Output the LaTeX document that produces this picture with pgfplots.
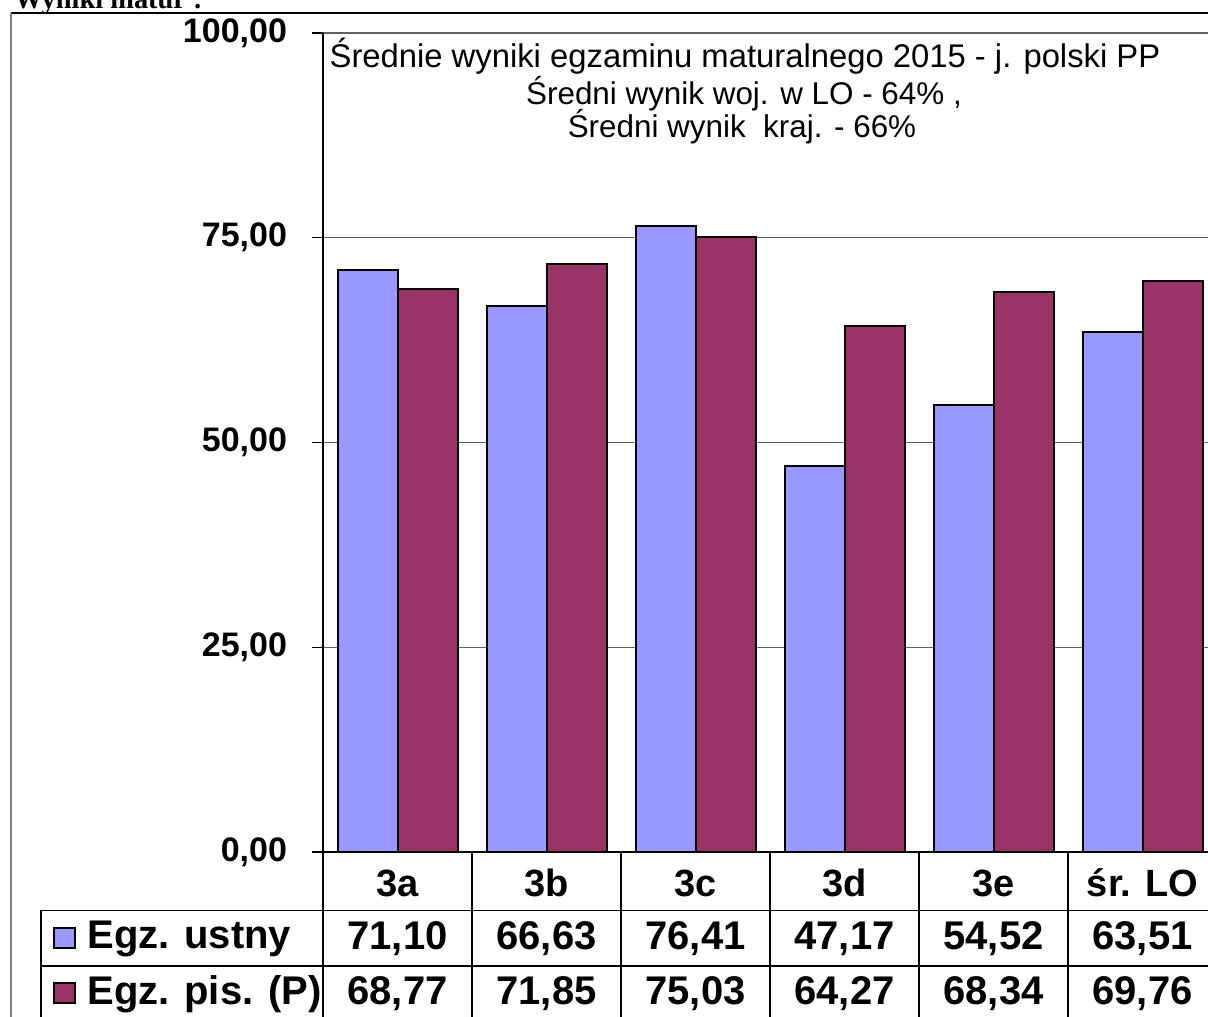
\documentclass[border=0pt]{standalone}
\usepackage{pgfplots}
\pgfplotsset{compat=1.18}
\usepackage{fontspec}
\setmainfont{Liberation Sans}
\newfontfamily\timesf{Liberation Serif}
\definecolor{ustny}{HTML}{9999FF}
\definecolor{pis}{HTML}{993366}
\definecolor{gridc}{HTML}{606060}
\begin{document}
\begin{tikzpicture}[x=1pt,y=1pt]
\useasboundingbox (0,0) rectangle (604,508);
\clip (0,0) rectangle (604,508);
% outer frame
\draw[black, line width=0.6pt] (5.5,501.5) -- (610,501.5);
\draw[gray, line width=0.6pt] (5.5,501.5) -- (5.5,-5);
\node[anchor=base west, inner sep=0pt, font=\timesf\bfseries\fontsize{14.2}{14.2}\selectfont] at (7,503.5) {Wyniki matur :};
\begin{axis}[
  at={(161.5pt,82pt)}, anchor=south west,
  scale only axis, width=447pt, height=409.5pt,
  xmin=-0.5, xmax=5.5, ymin=0, ymax=100,
  ybar=0pt, bar width=30pt,
  axis x line=bottom, axis y line=left,
  axis line style={-, black, line width=0.8pt},
  xtick={0,1,2,3,4,5},
  xticklabels={3a,3b,3c,3d,3e,śr. LO},
  xticklabel style={font=\bfseries\fontsize{19}{19}\selectfont, anchor=center, yshift=-10pt},
  xtick style={draw=none},
  ytick={0,25,50,75,100},
  ymajorgrids, grid style={gridc, line width=0.7pt},
  tick align=outside, major tick length=5.5pt,
  ytick style={black, line width=0.7pt},
  yticklabel style={font=\bfseries\fontsize{17}{17}\selectfont, anchor=east, xshift=-9pt,
    /pgf/number format/.cd, fixed, fixed zerofill, precision=2, use comma, assume math mode=true},
  clip=false,
]
\addplot[fill=ustny, draw=black, line width=1pt] coordinates {(0,71.10) (1,66.63) (2,76.41) (3,47.17) (4,54.52) (5,63.51)};
\addplot[fill=pis, draw=black, line width=1pt] coordinates {(0,68.77) (1,71.85) (2,75.03) (3,64.27) (4,68.34) (5,69.76)};
\end{axis}
% title
\node[anchor=base, inner sep=0pt, font=\fontsize{16.4}{16.4}\selectfont] at (372.5,474) {Średnie wyniki egzaminu maturalnego 2015 - j. polski PP};
\begin{scope}[font=\fontsize{15.7}{15.7}\selectfont]
\node[anchor=base, inner sep=0pt] at (372,455.85) {Średni wynik woj. w LO - 64\% ,};
\node[anchor=base, inner sep=0pt] at (371,439.15) {Średni wynik\ \ kraj. - 66\%};
\end{scope}
% data table
\begin{scope}[line width=0.6pt, black]
\draw (20.5,52.75) -- (610,52.75);
\draw (20.5,25) -- (610,25);
\draw (20.5,52.75) -- (20.5,-5);
\draw (161.5,82) -- (161.5,-5);
\foreach \x in {236,310.5,385,459.5,534} {\draw (\x,82) -- (\x,-5);}
\end{scope}
\draw[fill=ustny, line width=0.8pt] (27,34) rectangle (37.5,44);
\draw[fill=pis, line width=0.8pt] (27,6.5) rectangle (37.5,16.5);
\begin{scope}[font=\bfseries\fontsize{20}{20}\selectfont]
\node[anchor=west, inner sep=0pt] at (43.5,38.5) {Egz. ustny};
\node[anchor=west, inner sep=0pt] at (43.5,11) {Egz. pis. (P)};
\node at (198.75,38.5) {71,10};
\node at (273.25,38.5) {66,63};
\node at (347.75,38.5) {76,41};
\node at (422.25,38.5) {47,17};
\node at (496.75,38.5) {54,52};
\node at (571.25,38.5) {63,51};
\node at (198.75,11) {68,77};
\node at (273.25,11) {71,85};
\node at (347.75,11) {75,03};
\node at (422.25,11) {64,27};
\node at (496.75,11) {68,34};
\node at (571.25,11) {69,76};
\end{scope}
\end{tikzpicture}
\end{document}
